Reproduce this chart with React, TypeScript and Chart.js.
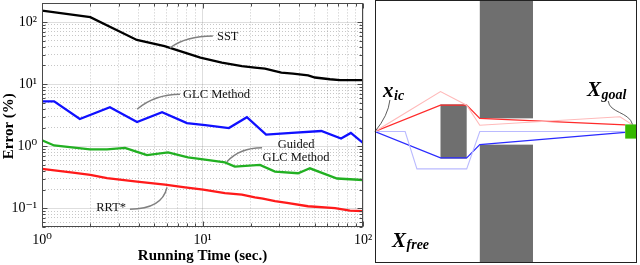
import React, { useEffect, useRef } from 'react';
import { Chart, registerables } from 'chart.js';

Chart.register(...registerables);

const SERIF = '"Liberation Serif", "DejaVu Serif", serif';

// ---------- Left plot: error vs running time ----------
const seriesNames = ['SST', 'GLC Method', 'Guided GLC Method', 'RRT*'];
const seriesColors = ['#000000', '#1010ff', '#22b022', '#ff1a1a'];

const sstTimes = [1, 2, 3.9, 5.8, 9.7, 13.2, 17.6, 21.2, 24.5, 31, 36.6, 45.5, 50.2, 62.3, 71.9, 100];
const sstErrors = [153, 120, 51.6, 41, 26.7, 22.2, 19.6, 18.5, 17.8, 15.4, 14.8, 13.9, 12.8, 12.0, 11.6, 11.6];

const glcTimes = [1, 1.19, 1.72, 2.65, 3.91, 5.6, 8.0, 10.4, 14.6, 18.9, 24.9, 36, 55, 73, 84, 100];
const glcErrors = [5.3, 5.3, 2.74, 4.25, 2.45, 3.54, 2.36, 2.19, 1.96, 2.94, 1.54, 1.64, 1.76, 1.33, 1.64, 1.13];

const guidedTimes = [1, 1.19, 1.99, 2.54, 3.29, 3.91, 4.51, 6.1, 8.12, 10.1, 13.8, 15.9, 22.8, 28.3, 39.4, 46.7, 68.9, 100];
const guidedErrors = [1.25, 1.03, 0.893, 0.893, 0.942, 0.814, 0.721, 0.794, 0.66, 0.614, 0.55, 0.469, 0.5, 0.391, 0.367, 0.441, 0.302, 0.286];

const rrtTimes = [1, 1.56, 2, 2.54, 3.91, 5.84, 7.78, 10.1, 13.8, 17.6, 21.2, 23.8, 28.3, 33.6, 45.4, 66.9, 83, 100];
const rrtErrors = [0.431, 0.377, 0.346, 0.306, 0.27, 0.24, 0.217, 0.2, 0.176, 0.166, 0.15, 0.143, 0.13, 0.122, 0.108, 0.101, 0.092, 0.09];

const xMin = 1;
const xMax = 100;
const yMin = 0.05;
const yMax = 200;

const xGridValues = [1, 2, 3, 4, 5, 6, 7, 8, 9, 10, 20, 30, 40, 50, 60, 70, 80, 90, 100];
const yGridValues = [
  0.05, 0.06, 0.07, 0.08, 0.09,
  0.1, 0.2, 0.3, 0.4, 0.5, 0.6, 0.7, 0.8, 0.9,
  1, 2, 3, 4, 5, 6, 7, 8, 9,
  10, 20, 30, 40, 50, 60, 70, 80, 90,
  100, 200,
];

const xTickValues = [1, 10, 100];
const xTickLabels = ['10⁰', '10¹', '10²'];
const yTickValues = [0.1, 1, 10, 100];
const yTickLabels = ['10⁻¹', '10⁰', '10¹', '10²'];

const xAxisTitle = 'Running Time (sec.)';
const yAxisTitle = 'Error (%)';

// callout labels (anchored in data coordinates: [time, error])
const noteTexts = ['SST', 'GLC Method', 'Guided\nGLC Method', 'RRT*'];
const noteFrom = [[6.27, 38.5], [3.91, 3.94], [14.2, 0.563], [6.01, 0.217]];
const noteBend = [[7.89, 59.8], [5.06, 6.86], [17.1, 0.943], [5.59, 0.0968]];
const noteTo = [[11.6, 59.8], [7.24, 6.86], [23.5, 0.943], [3.53, 0.0968]];
const noteAt = [[12.3, 57.7], [7.56, 6.78], [38.3, 0.836], [3.34, 0.1005]];
const noteAlign: CanvasTextAlign[] = ['left', 'left', 'center', 'right'];

// ---------- Right diagram (unit square 0..100) ----------
const pathNames = ['candidate up', 'candidate down', 'path up', 'path down'];
const pathColors = ['#ffb9b9', '#babaff', '#ff2a2a', '#2a2aff'];
const pathWidths = [1.1, 1.1, 1.2, 1.2];
const pathXs = [
  [0, 25, 35, 40, 93.5, 98],
  [0, 11.5, 16, 35, 40, 95.5],
  [0, 25, 35, 40, 95.5],
  [0, 25, 35, 40, 95.5],
];
const pathYs = [
  [50, 65.2, 60, 52.4, 55.6, 52.7],
  [50, 50, 35.8, 35.8, 50, 50],
  [50, 60, 60, 55, 52.5],
  [50, 40, 40, 45, 49.7],
];

const obstacleX0 = [25, 40, 40];
const obstacleX1 = [35, 60.3, 60.3];
const obstacleY0 = [39.7, 0, 55];
const obstacleY1 = [60.3, 45, 100];

const goalX = [95.5, 100];
const goalY = [47.3, 52.7];

const symbolMain = ['x', 'X', 'X'];
const symbolSub = ['ic', 'goal', 'free'];
const symbolAt = [[3.05, 63], [80.9, 63.4], [6.5, 6.1]];

const isPow10 = (v: number) => {
  const l = Math.log10(v);
  return Math.abs(l - Math.round(l)) < 1e-6;
};
const labelFor = (v: number, vals: number[], labels: string[]) => {
  const i = vals.findIndex((t) => Math.abs(Math.log10(t) - Math.log10(v)) < 1e-6);
  return i >= 0 ? labels[i] : '';
};
const toPoints = (xs: number[], ys: number[]) => xs.map((x, i) => ({ x, y: ys[i] }));

const plotFrame = {
  id: 'plotFrame',
  afterDatasetsDraw(chart: any) {
    const { ctx, chartArea: a, scales } = chart;
    const xs = scales.x;
    const ys = scales.y;
    ctx.save();
    // callout leaders
    ctx.strokeStyle = '#808080';
    ctx.lineWidth = 1.5;
    for (let i = 0; i < noteTexts.length; i++) {
      ctx.beginPath();
      ctx.moveTo(xs.getPixelForValue(noteFrom[i][0]), ys.getPixelForValue(noteFrom[i][1]));
      ctx.quadraticCurveTo(
        xs.getPixelForValue(noteBend[i][0]), ys.getPixelForValue(noteBend[i][1]),
        xs.getPixelForValue(noteTo[i][0]), ys.getPixelForValue(noteTo[i][1]),
      );
      ctx.stroke();
    }
    ctx.fillStyle = '#111';
    ctx.font = `12.5px ${SERIF}`;
    ctx.textBaseline = 'middle';
    for (let i = 0; i < noteTexts.length; i++) {
      const lines = noteTexts[i].split('\n');
      const px = xs.getPixelForValue(noteAt[i][0]);
      const py = ys.getPixelForValue(noteAt[i][1]);
      const lh = 13.5;
      ctx.textAlign = noteAlign[i];
      lines.forEach((ln, k) => {
        ctx.fillText(ln, px, py + (k - (lines.length - 1) / 2) * lh);
      });
    }
    // y axis title (sits slightly below the axis middle, as in the source figure)
    ctx.save();
    ctx.translate(9.5, (a.top + a.bottom) / 2 + 11);
    ctx.rotate(-Math.PI / 2);
    ctx.font = `bold 15px ${SERIF}`;
    ctx.fillStyle = '#000';
    ctx.textAlign = 'center';
    ctx.textBaseline = 'middle';
    ctx.fillText(yAxisTitle, 0, 0);
    ctx.restore();
    // frame
    ctx.strokeStyle = '#4a4a4a';
    ctx.lineWidth = 1;
    const L = Math.round(a.left) + 0.5;
    const R = Math.round(a.right) - 0.5;
    const T = Math.round(a.top) + 0.5;
    const B = Math.round(a.bottom) - 0.5;
    ctx.strokeRect(L, T, R - L, B - T);
    // inward ticks on all four sides
    ctx.beginPath();
    xGridValues.forEach((v) => {
      const p = Math.round(xs.getPixelForValue(v)) + 0.5;
      const len = isPow10(v) ? 5 : 3;
      ctx.moveTo(p, B); ctx.lineTo(p, B - len);
      ctx.moveTo(p, T); ctx.lineTo(p, T + len);
    });
    yGridValues.forEach((v) => {
      const p = Math.round(ys.getPixelForValue(v)) + 0.5;
      const len = isPow10(v) ? 5 : 3;
      ctx.moveTo(L, p); ctx.lineTo(L + len, p);
      ctx.moveTo(R, p); ctx.lineTo(R - len, p);
    });
    ctx.stroke();
    ctx.restore();
  },
};

const diagram = {
  id: 'diagram',
  beforeDatasetsDraw(chart: any) {
    const { ctx, chartArea: a, scales } = chart;
    const x = scales.x;
    const y = scales.y;
    ctx.save();
    ctx.fillStyle = '#ffffff';
    ctx.fillRect(a.left, a.top, a.right - a.left, a.bottom - a.top);
    ctx.fillStyle = '#6f6f6f';
    for (let i = 0; i < obstacleX0.length; i++) {
      const x0 = x.getPixelForValue(obstacleX0[i]);
      const x1 = x.getPixelForValue(obstacleX1[i]);
      const y0 = y.getPixelForValue(obstacleY0[i]);
      const y1 = y.getPixelForValue(obstacleY1[i]);
      ctx.fillRect(x0, y1, x1 - x0, y0 - y1);
    }
    ctx.restore();
  },
  afterDatasetsDraw(chart: any) {
    const { ctx, chartArea: a, scales } = chart;
    const x = scales.x;
    const y = scales.y;
    ctx.save();
    // goal region
    ctx.fillStyle = '#36b800';
    const gx0 = x.getPixelForValue(goalX[0]);
    const gx1 = x.getPixelForValue(goalX[1]);
    const gy0 = y.getPixelForValue(goalY[0]);
    const gy1 = y.getPixelForValue(goalY[1]);
    ctx.fillRect(gx0, gy1, gx1 - gx0, gy0 - gy1);
    // frame
    ctx.strokeStyle = '#222';
    ctx.lineWidth = 1;
    ctx.strokeRect(Math.round(a.left) + 0.5, Math.round(a.top) + 0.5,
      Math.round(a.right - a.left) - 1, Math.round(a.bottom - a.top) - 1);
    // leaders
    ctx.strokeStyle = '#333';
    ctx.lineWidth = 0.8;
    ctx.beginPath();
    ctx.moveTo(x.getPixelForValue(0), y.getPixelForValue(50));
    ctx.quadraticCurveTo(x.getPixelForValue(5), y.getPixelForValue(56), x.getPixelForValue(5.7), y.getPixelForValue(62));
    ctx.stroke();
    ctx.beginPath();
    ctx.moveTo(x.getPixelForValue(89), y.getPixelForValue(61.6));
    ctx.bezierCurveTo(
      x.getPixelForValue(89.5), y.getPixelForValue(57),
      x.getPixelForValue(97), y.getPixelForValue(57.5),
      x.getPixelForValue(98.3), y.getPixelForValue(52.7),
    );
    ctx.stroke();
    // symbols
    ctx.fillStyle = '#000';
    ctx.textBaseline = 'alphabetic';
    ctx.textAlign = 'left';
    for (let i = 0; i < symbolMain.length; i++) {
      const px = x.getPixelForValue(symbolAt[i][0]);
      const py = y.getPixelForValue(symbolAt[i][1]);
      ctx.font = `italic bold 21px ${SERIF}`;
      ctx.fillText(symbolMain[i], px, py);
      const w = ctx.measureText(symbolMain[i]).width;
      ctx.font = `italic bold 14px ${SERIF}`;
      ctx.fillText(symbolSub[i], px + w + 0.5, py + 2.5);
    }
    ctx.restore();
  },
};

export default function App() {
  const leftRef = useRef<HTMLCanvasElement>(null);
  const rightRef = useRef<HTMLCanvasElement>(null);

  useEffect(() => {
    const gridColor = (ctx: any) =>
      ctx.tick && isPow10(ctx.tick.value) ? 'rgba(0,0,0,0.13)' : 'rgba(0,0,0,0.22)';
    const gridDash = (ctx: any) => (ctx.tick && isPow10(ctx.tick.value) ? [] : [1, 2]);

    const left = new Chart(leftRef.current as HTMLCanvasElement, {
      type: 'line',
      data: {
        datasets: [
          { label: seriesNames[0], data: toPoints(sstTimes, sstErrors) },
          { label: seriesNames[1], data: toPoints(glcTimes, glcErrors) },
          { label: seriesNames[2], data: toPoints(guidedTimes, guidedErrors) },
          { label: seriesNames[3], data: toPoints(rrtTimes, rrtErrors) },
        ].map((d, i) => ({
          ...d,
          borderColor: seriesColors[i],
          backgroundColor: seriesColors[i],
          borderWidth: 2.3,
          pointRadius: 0,
          tension: 0,
          fill: false,
        })),
      },
      options: {
        responsive: false,
        animation: false,
        layout: { padding: { left: 0, right: 22, top: 11, bottom: 0 } },
        plugins: { legend: { display: false }, tooltip: { enabled: false } },
        scales: {
          x: {
            type: 'logarithmic',
            min: xMin,
            max: xMax,
            afterBuildTicks: (s: any) => {
              s.ticks = xGridValues.map((v) => ({ value: v, major: isPow10(v) }));
            },
            afterFit: (s: any) => { s.height = 38; },
            grid: { color: gridColor, lineWidth: 1, drawTicks: false },
            border: { display: false, dash: gridDash },
            ticks: {
              autoSkip: false,
              maxRotation: 0,
              padding: 5,
              color: '#000',
              font: { family: SERIF, size: 14 },
              callback: (v: any) => labelFor(Number(v), xTickValues, xTickLabels),
            },
            title: {
              display: true,
              text: xAxisTitle,
              color: '#000',
              font: { family: SERIF, size: 15, weight: 'bold' },
              padding: { top: 0, bottom: 0 },
            },
          },
          y: {
            type: 'logarithmic',
            min: yMin,
            max: yMax,
            afterBuildTicks: (s: any) => {
              s.ticks = yGridValues.map((v) => ({ value: v, major: isPow10(v) }));
            },
            afterFit: (s: any) => { s.width = 42; },
            grid: { color: gridColor, lineWidth: 1, drawTicks: false },
            border: { display: false, dash: gridDash },
            ticks: {
              autoSkip: false,
              padding: 5,
              color: '#000',
              font: { family: SERIF, size: 14 },
              callback: (v: any) => labelFor(Number(v), yTickValues, yTickLabels),
            },
            title: { display: false, text: yAxisTitle },
          },
        },
      },
      plugins: [plotFrame],
    } as any);

    const right = new Chart(rightRef.current as HTMLCanvasElement, {
      type: 'scatter',
      data: {
        datasets: pathXs.map((xs, i) => ({
          label: pathNames[i],
          data: toPoints(xs, pathYs[i]),
          showLine: true,
          borderColor: pathColors[i],
          backgroundColor: pathColors[i],
          borderWidth: pathWidths[i],
          pointRadius: 0,
          tension: 0,
          fill: false,
        })),
      },
      options: {
        responsive: false,
        animation: false,
        layout: { padding: { left: 5, right: 3, top: 0, bottom: 2 } },
        plugins: { legend: { display: false }, tooltip: { enabled: false } },
        scales: {
          x: { type: 'linear', min: 0, max: 100, display: false },
          y: { type: 'linear', min: 0, max: 100, display: false },
        },
      },
      plugins: [diagram],
    } as any);

    return () => {
      left.destroy();
      right.destroy();
    };
  }, []);

  return (
    <div style={{ position: 'fixed', left: 0, top: 0, width: 640, height: 265, background: '#fff', overflow: 'hidden' }}>
      <canvas
        ref={leftRef}
        width={385}
        height={275}
        style={{ position: 'absolute', left: 0, top: -10, width: 385, height: 275 }}
      />
      <canvas
        ref={rightRef}
        width={270}
        height={265}
        style={{ position: 'absolute', left: 370, top: 0, width: 270, height: 265 }}
      />
    </div>
  );
}
